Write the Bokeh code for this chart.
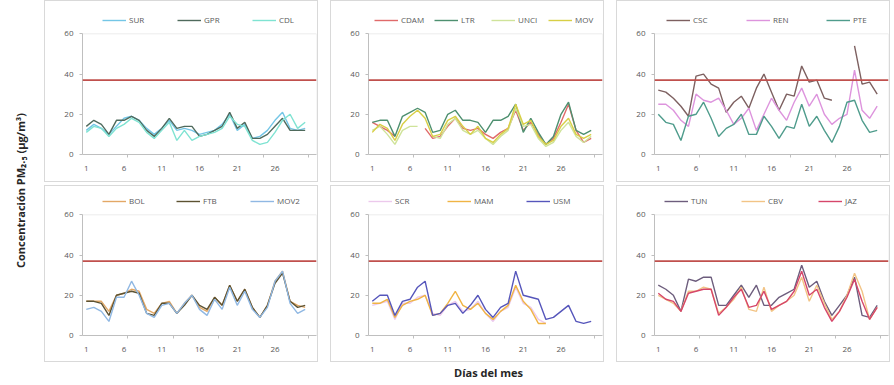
import numpy as np
from math import pi
from bokeh.plotting import figure
from bokeh.models import Range1d, FixedTicker, Span, Legend, LegendItem, Label, BoxAnnotation
from bokeh.layouts import row, column
from bokeh.embed import file_html
from bokeh.resources import INLINE

N = None
days = list(range(1, 31))
month_days = 31
x_tick_days = [1, 6, 11, 16, 21, 26]
x_minor_marks = [6.5, 12.5, 18.5, 24.5, 30.5]
y_ticks = [0, 20, 40, 60]
y_max = 60
limit = 37

# Panel 1
sur = [12, 15, 13, 10, 14, 18, 19, 17, 13, 10, 13, 17, 12, 13, 12, 10, 11, 12, 15, 20, 12, 15, 8, 9, 12, 17, 21, 13, 12, 13]
gpr = [14, 17, 15, 10, 17, 17, 19, 17, 12, 9, 13, 18, 13, 14, 14, 9, 10, 12, 14, 21, 13, 16, 8, 8, 10, 14, 18, 12, 12, 12]
cdl = [11, 14, 13, 9, 13, 15, 18, 16, 11, 8, 12, 16, 7, 12, 7, 9, 10, 11, 13, 19, 15, 14, 7, 5, 6, 11, 17, 20, 13, 16]
# Panel 2
cdam = [16, 14, 12, 9, N, N, N, 13, 8, 9, 14, 18, 13, 12, 13, 10, 8, 11, 13, 22, 12, 16, 10, 5, 8, 16, 25, 12, 6, 8]
ltr = [16, 17, 17, 9, 19, 21, 23, 21, 11, 12, 20, 22, 17, 17, 16, 11, 17, 17, 19, 25, 11, 18, 11, 5, 9, 20, 26, 12, 10, 12]
unci = [12, 14, 10, 5, 12, 14, 14, N, 9, 8, 15, 18, 12, 10, 12, 8, 5, 9, 12, 23, 14, 15, 8, 4, 6, 12, 16, 9, 6, 9]
mov = [11, 15, 13, 7, 15, 19, 22, 18, 9, 10, 17, 19, 14, 10, 14, 8, 6, 10, 13, 25, 15, 17, 9, 5, 7, 14, 18, 10, 8, 10]
# Panel 3
csc = [32, 31, 28, 24, 19, 39, 40, 35, 33, 21, 26, 29, 23, 33, 40, 31, 22, 30, 29, 44, 36, 37, 28, 27, N, N, 54, 35, 36, 30]
ren = [25, 25, 22, 17, 14, 30, 27, 26, 28, 22, 15, 18, 23, 12, 20, 28, 22, 17, 26, 33, 24, 30, 20, 15, 18, 20, 42, 22, 18, 24]
pte = [20, 16, 15, 7, 19, 20, 26, 18, 9, 13, 15, 20, 10, 10, 19, 14, 8, 14, 13, 25, 14, 19, 12, 6, 14, 26, 27, 17, 11, 12]
# Panel 4
bol = [17, 17, 17, 12, 20, 21, 23, 22, 13, 11, 16, 17, 11, 16, 20, 14, 12, 19, 15, 25, 17, 23, 14, 9, 15, 27, 32, 17, 15, 14]
ftb = [17, 17, 16, 10, 20, 21, 22, 21, 11, 10, 16, 16, 11, 15, 20, 15, 13, 19, 15, 25, 17, 23, 14, 9, 15, 26, 31, 17, 14, 15]
mov2 = [13, 14, 12, 7, 19, 19, 27, 20, 11, 9, 15, 16, 11, 16, 20, 13, 10, 18, 13, 24, 15, 22, 13, 9, 14, 27, 32, 16, 11, 13]
# Panel 5
scr = [15, 16, 17, 8, 16, 16, 19, 20, 11, 10, 15, 17, 12, 13, 17, 11, 7, 12, 14, 24, 16, 14, 8, 6, N, N, N, N, N, N]
mam = [16, 16, 18, 9, 15, 17, 18, 20, 10, 11, 16, 22, 15, 13, 16, 11, 8, 12, 15, 25, 17, 13, 6, 6, N, N, N, N, N, N]
usm = [17, 20, 20, 10, 17, 18, 24, 27, 10, 11, 15, 16, 11, 15, 20, 13, 9, 14, 16, 32, 20, 19, 18, 8, 9, 12, 15, 7, 6, 7]
# Panel 6
tun = [25, 23, 20, 12, 28, 27, 29, 29, 15, 15, 20, 25, 19, 25, 15, 15, 19, 21, 23, 35, 24, 27, 17, 10, 15, 20, 29, 10, 9, 15]
cbv = [20, 18, 16, 12, 22, 22, 24, 23, 11, 14, 18, 24, 13, 12, 24, 12, 15, 17, 20, 29, 17, 25, 16, 8, 12, 20, 31, 22, 8, 14]
jaz = [21, 18, 17, 12, 21, 22, 23, 23, 10, 14, 19, 23, 14, 15, 22, 13, 15, 17, 22, 32, 20, 23, 14, 7, 12, 19, 28, 17, 8, 14]

panels = [
    ([("SUR", sur, "#74c6e6"), ("GPR", gpr, "#4f6a5c"), ("CDL", cdl, "#7fe3d2")], 1, 20, 28),
    ([("CDAM", cdam, "#e06a6a"), ("LTR", ltr, "#4e9070"), ("UNCI", unci, "#cfe39a"), ("MOV", mov, "#d8cf45")], 1, 6, 10),
    ([("CSC", csc, "#7d6060"), ("REN", ren, "#dd94dd"), ("PTE", pte, "#4f9c8c")], 1, 12, 33),
    ([("BOL", bol, "#e3a866"), ("FTB", ftb, "#5c5232"), ("MOV2", mov2, "#90b8e3")], 2, 20, 27),
    ([("SCR", scr, "#ecc9ec"), ("MAM", mam, "#f0b444"), ("USM", usm, "#5656bb")], 2, 0, 32),
    ([("TUN", tun, "#6d5d7d"), ("CBV", cbv, "#f2c486"), ("JAZ", jaz, "#d6466a")], 2, 10, 30),
]

FONT = "Open Sans"
GRAY = "#595959"
AXC = "#bfbfbf"
PLOT_H = 119      # pixel height of the 0-60 plot area
LEG_H = 24        # extra pixel room above the plot area for the legend
FRAME_H = PLOT_H + LEG_H


def make_panel(series, rownum, leg_x, leg_space):
    h = 182 if rownum == 1 else 177
    top = 8 if rownum == 1 else 4
    bottom = (h - 2) - top - FRAME_H
    x_lo, x_hi = 0.5, month_days + 0.5
    p = figure(width=274, height=h, x_range=Range1d(x_lo, x_hi),
               y_range=Range1d(0, y_max * FRAME_H / PLOT_H),
               output_backend="svg", toolbar_location=None,
               min_border_left=37, min_border_right=3, min_border_top=top, min_border_bottom=bottom,
               background_fill_color="white", border_fill_color="white")
    p.styles = {"border": "1px solid #d9d9d9"}
    p.xgrid.visible = False
    p.ygrid.visible = False
    p.outline_line_color = None
    p.add_layout(BoxAnnotation(left=x_lo, right=x_hi, bottom=0, top=y_max, fill_alpha=0,
                               line_color=AXC, line_width=1))
    p.add_layout(Span(location=limit, dimension="width", line_color="#c0504d", line_width=1.6))
    items = []
    for name, vals, color in series:
        r = p.line(days, np.array([np.nan if v is None else v for v in vals], dtype=float),
                   line_color=color, line_width=1.4)
        items.append(LegendItem(label=name, renderers=[r]))
    leg = Legend(items=items, orientation="horizontal", location=(leg_x, PLOT_H + 10),
                 label_text_font=FONT, label_text_font_size="8px", label_text_color=GRAY,
                 glyph_width=24, glyph_height=8, label_standoff=3, spacing=leg_space,
                 padding=0, margin=0, border_line_color=None, background_fill_alpha=0,
                 label_height=10)
    p.add_layout(leg, "center")
    p.xaxis.ticker = FixedTicker(ticks=x_tick_days, minor_ticks=x_minor_marks)
    p.yaxis.ticker = FixedTicker(ticks=y_ticks)
    p.yaxis.bounds = (0, y_max)
    for ax in (p.xaxis, p.yaxis):
        ax.axis_line_color = AXC
        ax.major_label_text_font = FONT
        ax.major_label_text_font_size = "8px"
        ax.major_label_text_color = GRAY
    p.xaxis.major_tick_line_color = None
    p.xaxis.major_tick_out = 0
    p.xaxis.major_label_standoff = 8
    p.xaxis.minor_tick_line_color = AXC
    p.xaxis.minor_tick_in = 0
    p.xaxis.minor_tick_out = 3
    p.yaxis.minor_tick_line_color = None
    p.yaxis.major_tick_line_color = AXC
    p.yaxis.major_tick_in = 0
    p.yaxis.major_tick_out = 3
    p.yaxis.major_label_standoff = 6
    return p


figs = [make_panel(*spec) for spec in panels]

ylab = figure(width=44, height=362, x_range=Range1d(0, 1), y_range=Range1d(0, 1),
              output_backend="svg", toolbar_location=None, min_border=0,
              x_axis_location=None, y_axis_location=None)
ylab.grid.visible = False
ylab.outline_line_color = None
ylab.add_layout(Label(x=0.45, y=0.475, text="Concentración PM₂.₅ (μg/m³)", angle=pi / 2,
                      text_align="center", text_baseline="middle", text_font=FONT,
                      text_font_size="11px", text_font_style="bold", text_color="#262626"))

xlab = figure(width=890, height=22, x_range=Range1d(0, 890), y_range=Range1d(0, 22),
              output_backend="svg", toolbar_location=None, min_border=0,
              x_axis_location=None, y_axis_location=None)
xlab.grid.visible = False
xlab.outline_line_color = None
xlab.add_layout(Label(x=488, y=12, text="Días del mes", text_align="center", text_baseline="middle",
                      text_font=FONT, text_font_size="11px", text_font_style="bold", text_color="#262626"))

grid = column(row(figs[0], figs[1], figs[2], spacing=12),
              row(figs[3], figs[4], figs[5], spacing=12), spacing=3)
layout = column(row(ylab, grid), xlab)

open("out.html", "w").write(file_html(layout, INLINE))
